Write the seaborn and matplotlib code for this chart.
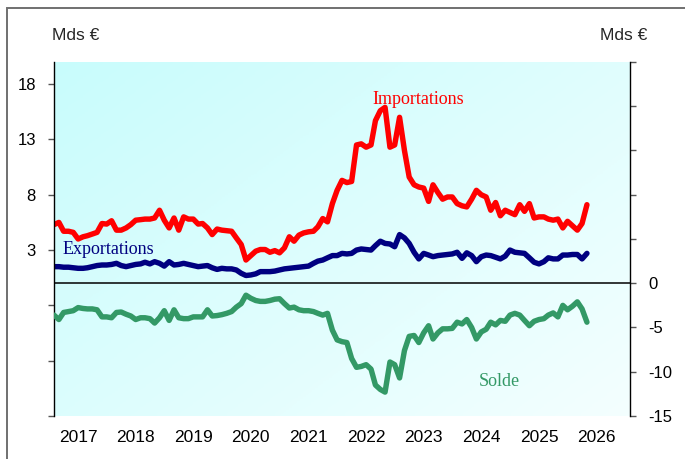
import numpy as np
import pandas as pd
import seaborn as sns
import matplotlib.pyplot as plt
from matplotlib.colors import LinearSegmentedColormap
from matplotlib.patches import Rectangle

sns.set_theme(style="white")
plt.rcParams["font.family"] = ["Liberation Sans", "DejaVu Sans"]

# monthly data, Mds €
months = pd.date_range("2016-08-01", periods=112, freq="MS")

importations = [
    5.3, 5.5, 4.7, 4.7, 4.6, 4.0, 4.2, 4.3, 4.45, 4.6,
    5.4, 5.35, 5.65, 4.8, 4.8, 5.0, 5.3, 5.7, 5.75, 5.8,
    5.8, 5.9, 6.6, 5.7, 5.0, 5.9, 4.8, 6.0, 5.8, 5.8,
    5.35, 5.4, 5.0, 4.4, 4.9, 4.8, 4.75, 4.7, 4.1, 3.5,
    2.1, 2.5, 2.9, 3.05, 3.05, 2.8, 2.95, 2.75, 3.2, 4.2,
    3.8, 4.35, 4.55, 4.65, 4.7, 5.1, 5.85, 5.55, 7.2, 8.4,
    9.3, 9.1, 9.2, 12.5, 12.6, 12.3, 12.5, 14.7, 15.6, 15.9,
    12.3, 12.5, 15.0, 12.0, 9.6, 8.9, 8.7, 8.6, 7.4, 8.9,
    8.2, 7.6, 7.8, 7.8, 7.2, 7.0, 6.9, 7.6, 8.4, 8.0,
    7.8, 6.6, 7.3, 6.1, 6.6, 6.4, 6.2, 7.1, 6.5, 7.2,
    5.9, 6.0, 6.0, 5.8, 5.7, 5.8, 5.0, 5.6, 5.2, 4.8,
    5.4, 7.1,
]

exportations = [
    1.5, 1.5, 1.45, 1.45, 1.4, 1.35, 1.35, 1.4, 1.5, 1.6,
    1.65, 1.65, 1.7, 1.8, 1.6, 1.5, 1.6, 1.7, 1.75, 1.9,
    1.75, 1.95, 1.8, 1.55, 1.95, 1.65, 1.7, 1.8, 1.7, 1.6,
    1.5, 1.55, 1.6, 1.4, 1.25, 1.35, 1.3, 1.3, 1.2, 0.9,
    0.7, 0.75, 0.85, 1.05, 1.05, 1.05, 1.1, 1.2, 1.3, 1.35,
    1.4, 1.45, 1.5, 1.55, 1.8, 2.0, 2.1, 2.3, 2.5, 2.5,
    2.7, 2.65, 2.7, 3.0, 3.1, 3.05, 3.0, 3.4, 3.8, 3.6,
    3.55, 3.3, 4.4, 4.1, 3.6, 2.8, 2.2, 2.7, 2.55, 2.4,
    2.5, 2.55, 2.6, 2.65, 2.8, 2.25, 2.75, 2.5, 1.95, 2.4,
    2.55, 2.5, 2.35, 2.2, 2.45, 3.0, 2.8, 2.75, 2.7, 2.3,
    1.9, 1.75, 1.95, 2.3, 2.2, 2.2, 2.55, 2.55, 2.6, 2.6,
    2.2, 2.7,
]

solde = [
    -3.6, -4.1, -3.3, -3.2, -3.1, -2.75, -2.85, -2.9, -2.9, -3.0,
    -3.8, -3.8, -3.9, -3.3, -3.25, -3.5, -3.7, -4.1, -3.9, -3.9,
    -4.0, -4.5, -3.9, -3.1, -4.2, -3.0, -3.9, -4.0, -4.0, -3.8,
    -3.8, -3.8, -3.0, -3.7, -3.65, -3.55, -3.4, -3.2, -2.7, -2.3,
    -1.35, -1.7, -1.95, -2.05, -2.05, -1.95, -1.8, -1.75, -2.3, -2.8,
    -2.7, -3.0, -3.1, -3.1, -3.2, -3.4, -3.6, -3.4, -5.3, -6.4,
    -6.6, -6.7, -8.5, -9.5, -9.4, -9.2, -9.7, -11.5, -12.0, -12.3,
    -8.9, -9.2, -10.7, -7.6, -6.0, -5.9, -6.7, -5.6, -4.8, -6.3,
    -5.6, -5.15, -5.15, -5.1, -4.4, -4.6, -4.1, -5.0, -6.3, -5.5,
    -5.2, -4.4, -4.7, -4.2, -4.3, -3.6, -3.4, -3.6, -4.2, -4.8,
    -4.3, -4.1, -4.0, -3.6, -3.35, -3.8, -2.5, -3.0, -2.6, -2.1,
    -2.9, -4.4,
]

years = list(range(2017, 2027))
left_ticks = [-12, -7, -2, 3, 8, 13, 18]
right_ticks = [-15, -10, -5, 0, 5, 10, 15, 20, 25]

W, H = 685, 459
fig = plt.figure(figsize=(W / 100, H / 100), dpi=100)
fig.patch.set_facecolor("white")

# outer frame
fig.patches.append(Rectangle((7 / W, -0.1), 1.2, 1 - 8 / H + 0.1, transform=fig.transFigure,
                             fill=False, edgecolor="#707070", lw=1.4))

rect = [54 / W, 1 - 416 / H, 576 / W, 354 / H]

# gradient background
bg = fig.add_axes(rect, zorder=-1)
cmap = LinearSegmentedColormap.from_list("bg", ["#C8FCFC", "#F4FFFF"])
gx, gy = np.meshgrid(np.linspace(0, 1, 200), np.linspace(0, 1, 200))
bg.imshow(0.55 * gx + 0.45 * gy, cmap=cmap, aspect="auto", extent=[0, 1, 0, 1])
bg.axis("off")

ax = fig.add_axes(rect)
ax.patch.set_alpha(0)

sns.lineplot(x=months, y=importations, ax=ax, color="#FF0000", lw=3.9, solid_joinstyle="round")
sns.lineplot(x=months, y=exportations, ax=ax, color="#000080", lw=3.9, solid_joinstyle="round")
ax.axhline(0, color="black", lw=1.1)

ax2 = ax.twinx()
sns.lineplot(x=months, y=solde, ax=ax2, color="#339966", lw=3.9, solid_joinstyle="round")

ax.set_xlim(months[0], pd.Timestamp("2026-08-01"))
ax.set_xticks(pd.to_datetime([f"{y}-01-01" for y in years]))
ax.set_xticklabels([str(y) for y in years])
ax.set_xlabel("")
ax.set_ylabel("")
ax2.set_ylabel("")

ax.set_ylim(-12, 20)
ax.set_yticks(left_ticks)
ax.set_yticklabels([str(t) if t >= 3 else "" for t in left_ticks])
ax2.set_ylim(-15, 25)
ax2.set_yticks(right_ticks)
ax2.set_yticklabels([str(t) if t <= 0 else "" for t in right_ticks])

ax.tick_params(axis="x", bottom=False, length=0, pad=10, labelsize=12.5, colors="black")
ax.tick_params(axis="y", left=True, direction="out", length=4, width=1, color="#555555",
               pad=9, labelsize=12, labelcolor="black")
ax2.tick_params(axis="y", right=True, direction="out", length=4, width=1, color="#555555",
                pad=9, labelsize=12, labelcolor="black")

for a in (ax, ax2):
    a.spines["top"].set_visible(False)
    a.spines["bottom"].set_visible(False)
ax.spines["right"].set_visible(False)
ax2.spines["left"].set_visible(False)
ax.spines["left"].set_color("black")
ax2.spines["right"].set_color("black")
ax.spines["left"].set_linewidth(1)
ax2.spines["right"].set_linewidth(1)

serif = ["Liberation Serif", "DejaVu Serif"]
fig.text(372 / W, 1 - 99 / H, "Importations", color="#FF0000", family=serif, size=13,
         ha="left", va="center")
fig.text(63 / W, 1 - 250 / H, "Exportations", color="#000080", family=serif, size=13,
         ha="left", va="center")
fig.text(479 / W, 1 - 382 / H, "Solde", color="#339966", family=serif, size=13,
         ha="left", va="center")
fig.text(52 / W, 1 - 36 / H, "Mds €", size=12.5, ha="left", va="center")
fig.text(600 / W, 1 - 36 / H, "Mds €", size=12.5, ha="left", va="center")

plt.savefig("out.png", dpi=100)
